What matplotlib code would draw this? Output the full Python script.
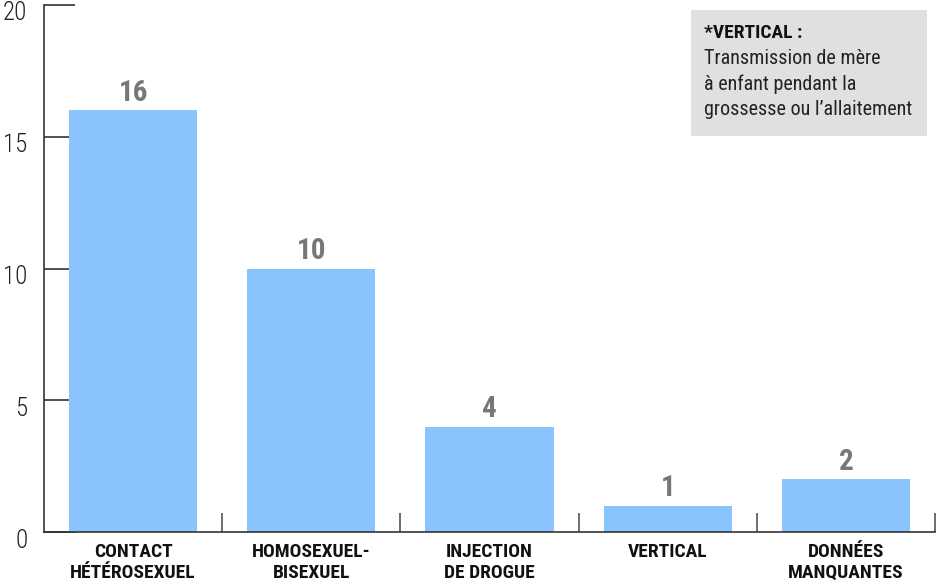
import matplotlib
matplotlib.use("Agg")
import matplotlib.pyplot as plt
import matplotlib.transforms as mtransforms
from matplotlib import font_manager

categories = ["CONTACT\nHÉTÉROSEXUEL", "HOMOSEXUEL-\nBISEXUEL", "INJECTION\nDE DROGUE", "VERTICAL", "DONNÉES\nMANQUANTES"]
values = [16, 10, 4, 1, 2]
yticks = [0, 5, 10, 15, 20]
note_title = "*VERTICAL :"
note_body = "Transmission de mère\nà enfant pendant la\ngrossesse ou l’allaitement"

names = {f.name for f in font_manager.fontManager.ttflist}
fam = "Roboto"
for cand in ["Roboto Condensed", "Liberation Sans Narrow", "Roboto"]:
    if cand in names:
        fam = cand
        break
plt.rcParams["font.family"] = [fam, "DejaVu Sans"]

W, H = 938, 584
fig = plt.figure(figsize=(W / 100, H / 100), dpi=100)
ax = fig.add_axes([44 / W, 52 / H, (935 - 44) / W, (532 - 5) / H])

x = list(range(len(values)))
ax.bar(x, values, width=0.72, color="#8AC4FF", zorder=2)
ax.set_xlim(-0.5, len(values) - 0.5)
ax.set_ylim(0, 20)

for xi, v in zip(x, values):
    ax.text(xi, v + 0.12, str(v), ha="center", va="bottom", fontsize=21,
            fontweight="bold", color="#777777")

for s in ["top", "right"]:
    ax.spines[s].set_visible(False)
for s in ["left", "bottom"]:
    ax.spines[s].set_color("#333333")
    ax.spines[s].set_linewidth(1.2)

ax.set_yticks(yticks)
ax.set_yticklabels([str(t) for t in yticks], fontsize=18, color="#222222", fontweight="light")
ax.tick_params(axis="y", direction="in", length=22, width=1.2, color="#333333", pad=12)
off = mtransforms.ScaledTranslation(0, -6 / 100, fig.dpi_scale_trans)
for lab in ax.get_yticklabels():
    lab.set_transform(lab.get_transform() + off)

ax.set_xticks([i + 0.5 for i in x])
ax.set_xticklabels([])
ax.tick_params(axis="x", direction="in", length=14, width=1.2, color="#555555")
for xi, c in zip(x, categories):
    ax.text(xi, -0.4, c, ha="center", va="top", fontsize=14, fontweight="bold",
            color="#111111", linespacing=1.25, transform=ax.transData, clip_on=False)

fig.patches.append(plt.Rectangle((691 / W, 1 - 136 / H), (927 - 691) / W, (136 - 10) / H,
                                 transform=fig.transFigure, facecolor="#E0E0E0", edgecolor="none"))
fig.text(704 / W, 1 - 24 / H, note_title, ha="left", va="top", fontsize=14, fontweight="bold", color="#111111")
fig.text(704 / W, 1 - 49 / H, note_body, ha="left", va="top", fontsize=14.5, color="#222222", linespacing=1.42)

fig.savefig("out.png", dpi=100)
